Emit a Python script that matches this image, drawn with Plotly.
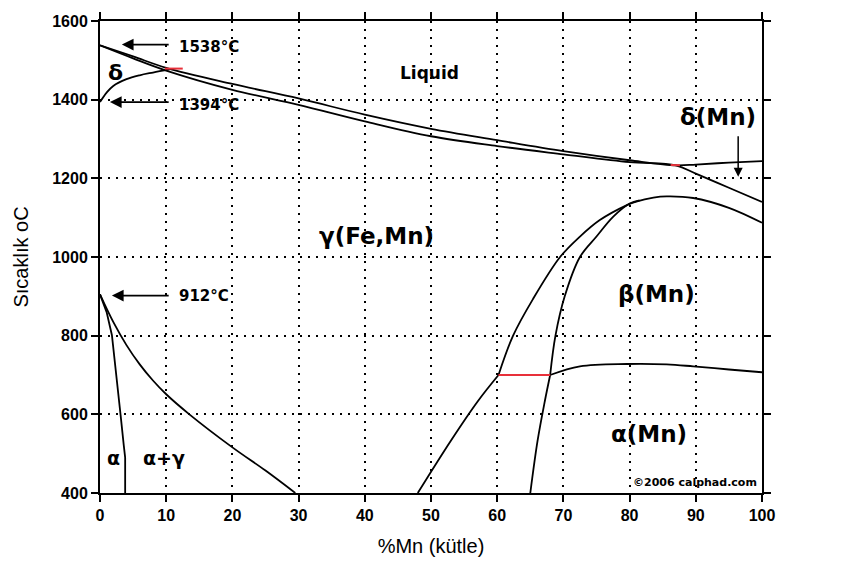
import plotly.graph_objects as go

# ---- data ----
liq_x = [0, 5, 10, 20, 30, 40, 50, 60, 70, 80, 87, 90, 95, 100]
liq_T = [1538, 1510, 1481, 1440, 1403, 1362, 1326, 1297, 1269, 1246, 1233, 1235, 1240, 1244]
sol_x = [0, 5, 10, 20, 30, 40, 50, 60, 70, 80, 87, 90, 95, 100]
sol_T = [1538, 1505, 1474, 1425, 1387, 1345, 1307, 1282, 1261, 1241, 1233, 1212, 1176, 1140]

delta_x = [0, 1, 2, 4, 6, 8, 10.5]
delta_T = [1394, 1418, 1435, 1452, 1462, 1469, 1477]

peri_fe_x = [9.8, 12.5]
peri_fe_T = [1479, 1479]
peri_mn_x = [86.2, 87.6]
peri_mn_T = [1234, 1233]

beta_left_hi_x = [60.2, 62.4, 65.4, 69.5, 72.5, 75.5, 79.6, 81, 83.6, 85.6, 89.6, 95, 100]
beta_left_hi_T = [700, 800, 893, 1000, 1052, 1094, 1132, 1141, 1151, 1154, 1150, 1125, 1087]
beta_left_lo_x = [48, 53, 57.1, 60.2]
beta_left_lo_T = [400, 533, 634, 700]
beta_right_hi_x = [68, 68.8, 70.2, 72.5, 75, 77.5, 80, 81.5]
beta_right_hi_T = [700, 800, 900, 1000, 1052, 1102, 1136, 1144]
beta_right_lo_x = [65, 66.1, 67.2, 68]
beta_right_lo_T = [400, 533, 634, 700]

alpha_mn_x = [68, 72.5, 79.6, 85.6, 89.6, 95, 100]
alpha_mn_T = [700, 722, 728, 727, 722, 714, 707]

eutectoid_x = [60.2, 68]
eutectoid_T = [700, 700]

alpha_fe_x = [0, 1, 1.8, 2.5, 3.1, 3.6, 3.8, 3.8]
alpha_fe_T = [905, 860, 801, 700, 600, 520, 490, 400]
gamma_fe_x = [0, 2, 4, 6, 8, 10, 13.5, 20, 25, 29.5]
gamma_fe_T = [905, 835, 776, 727, 686, 651, 600, 516, 457, 400]

left_temps = [1538, 1394, 912]
right_temps = [1246, 1138, 1087, 707]

x_ticks = [0, 10, 20, 30, 40, 50, 60, 70, 80, 90, 100]
y_ticks = [400, 600, 800, 1000, 1200, 1400, 1600]

BLACK = "#000000"
RED = "#e8303a"

fig = go.Figure()


def add_line(xs, ys, color=BLACK, width=1.8, shape="spline"):
    fig.add_trace(go.Scatter(x=xs, y=ys, mode="lines",
                             line=dict(color=color, width=width, shape=shape, smoothing=1.0),
                             hoverinfo="skip", showlegend=False))


add_line(liq_x, liq_T)
add_line(sol_x, sol_T)
add_line(delta_x, delta_T)
add_line(beta_left_hi_x, beta_left_hi_T)
add_line(beta_left_lo_x, beta_left_lo_T)
add_line(beta_right_hi_x, beta_right_hi_T)
add_line(beta_right_lo_x, beta_right_lo_T)
add_line(alpha_mn_x, alpha_mn_T)
add_line(alpha_fe_x, alpha_fe_T, shape="linear")
add_line(gamma_fe_x, gamma_fe_T)
add_line(eutectoid_x, eutectoid_T, color=RED, width=2, shape="linear")
add_line(peri_fe_x, peri_fe_T, color=RED, width=2, shape="linear")
add_line(peri_mn_x, peri_mn_T, color=RED, width=2, shape="linear")

ann_font = dict(family="DejaVu Sans", size=15, color=BLACK)

annotations = []
# left temperature arrows
left_pos = {1538: (1540, 1535, 3.3), 1394: (1394, 1386, 1.5), 912: (902, 902, 1.8)}
for t in left_temps:
    ya, yt, head = left_pos[t]
    annotations.append(dict(x=head, y=ya, ax=10.6, ay=ya, xref="x", yref="y", axref="x", ayref="y",
                            text="", showarrow=True, arrowhead=2, arrowsize=1.3, arrowwidth=1.8,
                            arrowcolor=BLACK))
    annotations.append(dict(x=11.7, y=yt, xref="x", yref="y", text=f"<b>{t}°C</b>",
                            showarrow=False, xanchor="left", yanchor="middle", font=ann_font))
# right temperature arrows
right_pos = {1246: 1244, 1138: 1141, 1087: 1086, 707: 707}
for t in right_temps:
    ya = right_pos[t]
    annotations.append(dict(x=100.8, y=ya, ax=103.4, ay=ya, xref="x", yref="y", axref="x", ayref="y",
                            text="", showarrow=True, arrowhead=2, arrowsize=1.3, arrowwidth=1.8,
                            arrowcolor=BLACK))
    annotations.append(dict(x=104.2, y=ya, xref="x", yref="y", text=f"<b>{t}°C</b>",
                            showarrow=False, xanchor="left", yanchor="middle", font=ann_font))
# delta(Mn) arrow
annotations.append(dict(x=96.4, y=1204, ax=96.4, ay=1311, xref="x", yref="y", axref="x", ayref="y",
                        text="", showarrow=True, arrowhead=2, arrowsize=1.2, arrowwidth=1.5,
                        arrowcolor=BLACK))

phase_labels = [
    ("Liquid", 49.8, 1469, 17),
    ("δ", 2.3, 1470, 22),
    ("δ(Mn)", 93.4, 1357, 23),
    ("γ(Fe,Mn)", 41.8, 1053, 23),
    ("β(Mn)", 84, 905, 23),
    ("α(Mn)", 83, 551, 23),
    ("α", 2.1, 490, 19),
    ("α+γ", 9.7, 490, 19),
]
for txt, x, y, s in phase_labels:
    annotations.append(dict(x=x, y=y, xref="x", yref="y", text=f"<b>{txt}</b>", showarrow=False,
                            xanchor="center", yanchor="middle",
                            font=dict(family="DejaVu Sans", size=s, color=BLACK)))

annotations.append(dict(x=99.5, y=426, xref="x", yref="y", text="<b>©2006 calphad.com</b>",
                        showarrow=False, xanchor="right", yanchor="middle",
                        font=dict(family="DejaVu Sans", size=11, color=BLACK)))

axis_common = dict(showline=True, linecolor=BLACK, linewidth=2, mirror="ticks",
                   ticks="outside", ticklen=7, tickwidth=2, tickcolor=BLACK,
                   showgrid=True, gridcolor=BLACK, gridwidth=1.6, griddash="2px,6px",
                   zeroline=False,
                   tickfont=dict(family="Liberation Sans", size=16, color=BLACK, weight="bold"))

fig.update_layout(
    width=859, height=568,
    margin=dict(l=100, r=97, t=15, b=75),
    paper_bgcolor="white", plot_bgcolor="white",
    xaxis=dict(range=[0, 100], tickvals=x_ticks, ticktext=[str(v) for v in x_ticks],
               title=dict(text="%Mn (kütle)", font=dict(family="Liberation Sans", size=20, color=BLACK),
                          standoff=16),
               **axis_common),
    yaxis=dict(range=[400, 1600], tickvals=y_ticks, ticktext=[str(v) for v in y_ticks],
               title=dict(text="Sıcaklık oC", font=dict(family="Liberation Sans", size=20, color=BLACK),
                          standoff=18),
               **axis_common),
    annotations=annotations,
    showlegend=False,
)

fig.write_html("out.html")
